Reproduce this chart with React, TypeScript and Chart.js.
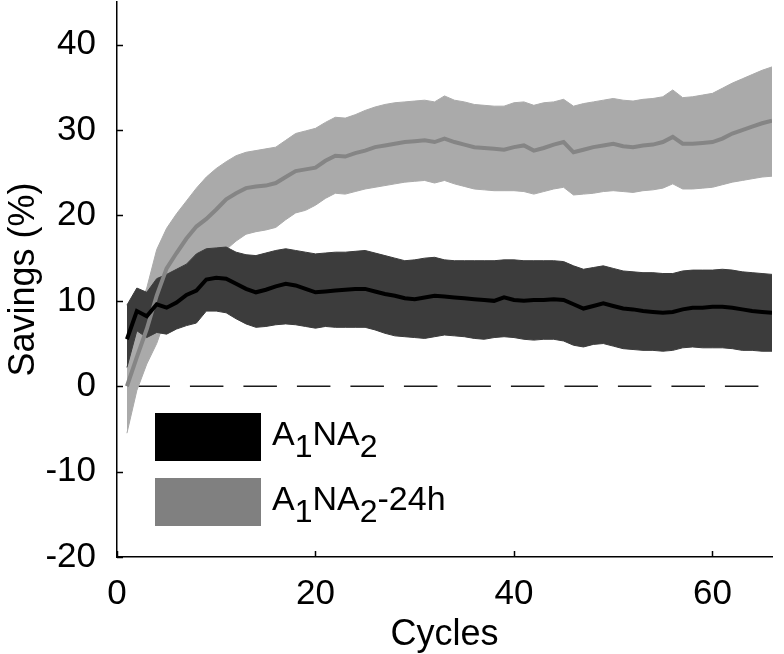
import React, { useEffect, useRef } from 'react';
import { Chart, registerables } from 'chart.js';

Chart.register(...registerables);

const FAMILY = '"Liberation Sans", Arial, Helvetica, sans-serif';

const cycles = [
  1, 2, 3, 4, 5, 6, 7, 8, 9, 10,
  11, 12, 13, 14, 15, 16, 17, 18, 19, 20,
  21, 22, 23, 24, 25, 26, 27, 28, 29, 30,
  31, 32, 33, 34, 35, 36, 37, 38, 39, 40,
  41, 42, 43, 44, 45, 46, 47, 48, 49, 50,
  51, 52, 53, 54, 55, 56, 57, 58, 59, 60,
  61, 62, 63, 64, 65, 66,
];

const darkMean = [
  5.5, 8.8, 8.2, 9.6, 9.2, 9.8, 10.7, 11.2, 12.5, 12.7,
  12.6, 12.0, 11.4, 11.0, 11.3, 11.7, 12.0, 11.8, 11.4, 11.0,
  11.1, 11.2, 11.3, 11.4, 11.4, 11.1, 10.8, 10.6, 10.3, 10.2,
  10.4, 10.6, 10.5, 10.4, 10.3, 10.2, 10.1, 10.0, 10.4, 10.1,
  10.0, 10.1, 10.1, 10.2, 10.1, 9.6, 9.1, 9.4, 9.7, 9.4,
  9.1, 9.0, 8.8, 8.7, 8.6, 8.7, 9.0, 9.2, 9.2, 9.3,
  9.3, 9.2, 9.0, 8.8, 8.7, 8.6,
];

const darkUpper = [
  9.5, 11.5, 11.0, 12.6, 13.1, 13.7, 14.3, 15.5, 16.1, 16.2,
  16.3, 15.7, 15.4, 15.3, 15.6, 15.9, 16.1, 15.9, 15.7, 15.5,
  15.6, 15.7, 15.7, 15.8, 15.9, 15.6, 15.3, 15.0, 14.7, 14.8,
  15.0, 15.1, 14.8, 14.7, 14.7, 14.7, 14.7, 14.7, 14.8, 14.8,
  14.7, 14.7, 14.7, 14.7, 14.6, 14.1, 13.7, 13.9, 14.1, 13.8,
  13.5, 13.4, 13.3, 13.3, 13.2, 13.2, 13.5, 13.6, 13.6, 13.6,
  13.7, 13.6, 13.4, 13.3, 13.2, 13.1,
];

const darkLower = [
  2.2, 6.5, 5.7, 6.3, 6.1, 6.7, 7.1, 7.4, 8.8, 8.8,
  8.6, 7.9, 7.3, 6.9, 7.0, 7.2, 7.3, 7.2, 7.0, 6.8,
  7.0, 6.9, 6.9, 6.9, 6.9, 6.6, 6.2, 5.9, 5.8, 5.7,
  5.6, 5.8, 6.0, 5.9, 5.8, 5.6, 5.5, 5.7, 5.8, 5.7,
  5.5, 5.4, 5.5, 5.5, 5.3, 4.8, 4.6, 4.9, 5.0, 4.7,
  4.4, 4.3, 4.2, 4.2, 4.1, 4.2, 4.5, 4.6, 4.5, 4.5,
  4.5, 4.4, 4.2, 4.2, 4.1, 4.1,
];

const lightMean = [
  0.0, 3.4, 6.7, 10.6, 13.8, 15.6, 17.3, 18.7, 19.6, 20.7,
  21.9, 22.6, 23.2, 23.4, 23.5, 23.8, 24.5, 25.2, 25.4, 25.6,
  26.4, 27.0, 26.9, 27.3, 27.6, 28.0, 28.2, 28.4, 28.6, 28.7,
  28.8, 28.6, 29.0, 28.6, 28.3, 28.0, 27.9, 27.8, 27.7, 28.0,
  28.2, 27.6, 27.9, 28.3, 28.6, 27.4, 27.7, 28.0, 28.2, 28.4,
  28.1, 28.0, 28.2, 28.3, 28.6, 29.2, 28.4, 28.4, 28.5, 28.6,
  29.0, 29.6, 30.0, 30.4, 30.8, 31.1,
];

const lightUpper = [
  5.5, 8.5, 11.5, 16.0, 18.5, 20.2, 21.7, 23.2, 24.5, 25.5,
  26.3, 27.0, 27.4, 27.6, 27.8, 28.0, 28.8, 29.6, 29.9, 30.2,
  30.9, 31.5, 31.4, 31.8, 32.3, 32.7, 33.0, 33.2, 33.3, 33.4,
  33.5, 33.3, 34.0, 33.5, 33.3, 33.0, 32.9, 32.8, 32.8, 33.2,
  33.3, 32.9, 33.2, 33.3, 33.6, 32.8, 33.1, 33.3, 33.5, 33.7,
  33.5, 33.4, 33.6, 33.7, 33.9, 34.7, 33.8, 33.9, 34.1, 34.3,
  34.9, 35.5, 36.0, 36.5, 37.0, 37.4,
];

const lightLower = [
  -5.5, -0.5, 2.6, 5.0, 8.3, 10.0, 11.5, 13.0, 14.0, 15.0,
  16.0, 17.0, 17.8, 18.1, 18.3, 18.6, 19.5, 20.3, 20.6, 21.2,
  22.0, 22.6, 22.5, 22.8, 23.1, 23.3, 23.5, 23.7, 23.9, 24.0,
  24.1, 23.8, 24.1, 23.7, 23.4, 23.1, 23.0, 22.9, 22.9, 22.9,
  22.8, 22.5, 22.8, 23.1, 23.3, 22.4, 22.5, 22.6, 22.8, 22.9,
  22.8, 22.7, 22.9, 23.0, 23.2, 23.7, 23.1, 23.1, 23.2, 23.3,
  23.6, 23.9, 24.1, 24.3, 24.5, 24.6,
];

const zeroLineX = [1, 66];
const zeroLineY = [0, 0];

const xTicks = [0, 20, 40, 60];
const yTicks = [-20, -10, 0, 10, 20, 30, 40];

// '_' marks the next character as a subscript
const legendLabels = ['A_1NA_2', 'A_1NA_2-24h'];
const legendColors = ['#000000', '#808080'];

const TICK_SIZE = 35;
const TITLE_SIZE = 36;
const LEGEND_SIZE = 34;
const LEGEND_SUB_SIZE = 32;

const pts = (xs: number[], ys: number[]) => xs.map((x, i) => ({ x, y: ys[i] }));

const inwardTicks = {
  id: 'inwardTicks',
  afterDraw(chart: any) {
    const { ctx, chartArea, scales } = chart;
    ctx.save();
    ctx.strokeStyle = '#000';
    ctx.lineWidth = 1.5;
    for (const t of scales.y.ticks) {
      const py = Math.round(scales.y.getPixelForValue(t.value)) + 0.5;
      ctx.beginPath();
      ctx.moveTo(chartArea.left, py);
      ctx.lineTo(chartArea.left + 6, py);
      ctx.stroke();
    }
    for (const t of scales.x.ticks) {
      const px = Math.round(scales.x.getPixelForValue(t.value)) + 0.5;
      ctx.beginPath();
      ctx.moveTo(px, chartArea.bottom);
      ctx.lineTo(px, chartArea.bottom - 6);
      ctx.stroke();
    }
    ctx.restore();
  },
};

const subLegend = {
  id: 'subLegend',
  afterDatasetsDraw(chart: any) {
    const { ctx, chartArea } = chart;
    const boxX = chartArea.left + 38;
    const boxW = 106;
    const boxH = 48;
    const rowGap = 65;
    const firstTop = chartArea.bottom - 144;
    ctx.save();
    legendLabels.forEach((label, i) => {
      const top = firstTop + i * rowGap;
      ctx.fillStyle = legendColors[i];
      ctx.fillRect(boxX, top, boxW, boxH);
      let x = boxX + boxW + 11;
      const base = top + 32;
      ctx.fillStyle = '#000';
      ctx.textBaseline = 'alphabetic';
      ctx.textAlign = 'left';
      for (let k = 0; k < label.length; k++) {
        let ch = label[k];
        let sub = false;
        if (ch === '_') {
          sub = true;
          k++;
          ch = label[k];
        }
        ctx.font = `${sub ? LEGEND_SUB_SIZE : LEGEND_SIZE}px ${FAMILY}`;
        ctx.fillText(ch, x, sub ? base + 12 : base);
        x += ctx.measureText(ch).width;
      }
    });
    ctx.restore();
  },
};

export default function App() {
  const ref = useRef<HTMLCanvasElement | null>(null);

  useEffect(() => {
    const canvas = ref.current;
    if (!canvas) return;
    const bandLine = {
      pointRadius: 0,
      tension: 0,
    };
    const chart = new Chart(canvas, {
      type: 'line',
      data: {
        datasets: [
          {
            label: 'dark mean',
            data: pts(cycles, darkMean),
            borderColor: '#000000',
            borderWidth: 4,
            fill: false,
            order: 0,
            ...bandLine,
          },
          {
            label: 'light mean',
            data: pts(cycles, lightMean),
            borderColor: '#858585',
            borderWidth: 4,
            fill: false,
            order: 1,
            ...bandLine,
          },
          {
            label: 'dark upper',
            data: pts(cycles, darkUpper),
            borderColor: '#3c3c3c',
            backgroundColor: '#3c3c3c',
            borderWidth: 1,
            fill: '+1',
            order: 2,
            ...bandLine,
          },
          {
            label: 'dark lower',
            data: pts(cycles, darkLower),
            borderColor: '#3c3c3c',
            borderWidth: 1,
            fill: false,
            order: 3,
            ...bandLine,
          },
          {
            label: 'light upper',
            data: pts(cycles, lightUpper),
            borderColor: '#aaaaaa',
            backgroundColor: '#aaaaaa',
            borderWidth: 1,
            fill: '+1',
            order: 4,
            ...bandLine,
          },
          {
            label: 'light lower',
            data: pts(cycles, lightLower),
            borderColor: '#aaaaaa',
            borderWidth: 1,
            fill: false,
            order: 5,
            ...bandLine,
          },
          {
            label: 'zero',
            data: pts(zeroLineX, zeroLineY),
            borderColor: '#1a1a1a',
            borderWidth: 1.6,
            borderDash: [33.5, 20],
            borderDashOffset: 44,
            fill: false,
            order: 6,
            ...bandLine,
          },
        ],
      },
      options: {
        responsive: false,
        animation: false,
        events: [],
        layout: { padding: { top: 2, right: 12, left: 0, bottom: 0 } },
        plugins: {
          legend: { display: false },
          tooltip: { enabled: false },
          title: { display: false },
        },
        scales: {
          x: {
            type: 'linear',
            min: 0,
            max: 66,
            grid: { display: false },
            border: { display: true, color: '#000', width: 1.5 },
            afterBuildTicks: (s: any) => {
              s.ticks = xTicks.map((v) => ({ value: v }));
            },
            afterFit: (s: any) => {
              s.height = 97;
              s.paddingLeft = 0;
              s.paddingRight = 0;
            },
            ticks: {
              autoSkip: false,
              maxRotation: 0,
              padding: 8,
              color: '#000',
              font: { family: FAMILY, size: TICK_SIZE },
              callback: (v: any) => String(v),
            },
            title: {
              display: true,
              text: 'Cycles',
              color: '#000',
              font: { family: FAMILY, size: TITLE_SIZE },
              padding: { top: 0, bottom: -3 },
            },
          },
          y: {
            type: 'linear',
            min: -20,
            max: 45,
            grid: { display: false },
            border: { display: true, color: '#000', width: 1.5 },
            afterBuildTicks: (s: any) => {
              s.ticks = yTicks.map((v) => ({ value: v }));
            },
            afterFit: (s: any) => {
              s.width = 117;
              s.paddingTop = 0;
              s.paddingBottom = 0;
            },
            ticks: {
              padding: 13,
              color: '#000',
              font: { family: FAMILY, size: TICK_SIZE },
              callback: (v: any) => String(v),
            },
            title: {
              display: true,
              text: 'Savings (%)',
              color: '#000',
              font: { family: FAMILY, size: TITLE_SIZE },
              padding: { top: 2, bottom: 0 },
            },
          },
        },
      },
      plugins: [inwardTicks, subLegend],
    });
    return () => chart.destroy();
  }, []);

  return (
    <div style={{ position: 'absolute', left: 0, top: 0, width: 784, height: 654, background: '#fff' }}>
      <canvas ref={ref} width={784} height={654} style={{ width: 784, height: 654, display: 'block' }} />
    </div>
  );
}
